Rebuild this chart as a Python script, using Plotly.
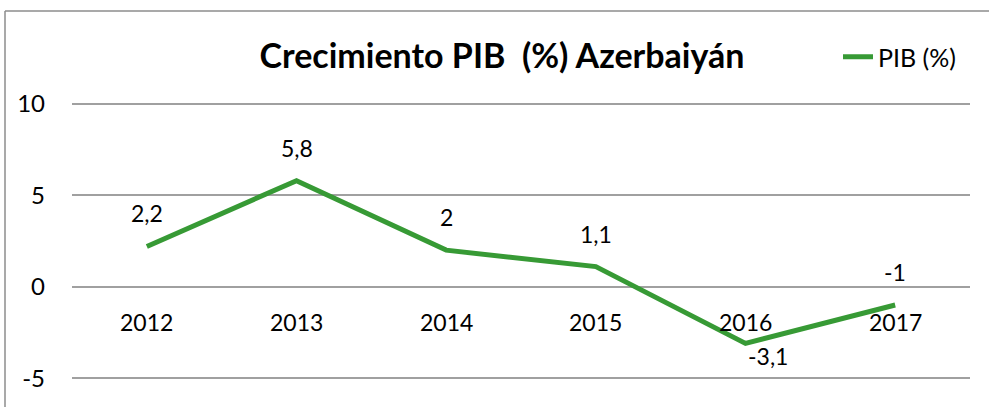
import plotly.graph_objects as go

years = ["2012", "2013", "2014", "2015", "2016", "2017"]
pib = [2.2, 5.8, 2.0, 1.1, -3.1, -1.0]
y_ticks = [-5, 0, 5, 10]

GREEN = "#379a35"
FONT = "Lato"

W, H = 989, 407
ML, MR, MT, MB = 72, 19, 102, 27

fig = go.Figure()
fig.add_trace(go.Scatter(
    x=years, y=pib, mode="lines", name="PIB (%)",
    line=dict(color=GREEN, width=5),
    hoverinfo="skip",
))

def fmt(v):
    return ("%g" % v).replace(".", ",")

annotations = []
for i, v in enumerate(pib):
    below = v < -2
    annotations.append(dict(
        x=i, y=v, xref="x", yref="y", text=fmt(v), showarrow=False,
        xshift=22 if below else 0, yshift=-13 if below else 33,
        yanchor="middle", xanchor="center",
        font=dict(family=FONT, size=23, color="#000"),
    ))
for i, yr in enumerate(years):
    annotations.append(dict(
        x=i, y=0, xref="x", yref="y", text=yr, showarrow=False,
        yshift=-35, yanchor="middle", xanchor="center",
        font=dict(family=FONT, size=23, color="#000"),
    ))

pw = W - ML - MR
ph = H - MT - MB
def px_x(px):
    return (px - ML) / pw
def px_y(py):
    return (H - MB - py) / ph

shapes = [
    dict(type="line", xref="paper", yref="paper",
         x0=px_x(5), x1=px_x(995), y0=px_y(11), y1=px_y(11),
         line=dict(color="#8c8c8c", width=1.5)),
    dict(type="line", xref="paper", yref="paper",
         x0=px_x(5), x1=px_x(5), y0=px_y(11), y1=px_y(415),
         line=dict(color="#8c8c8c", width=1.5)),
]

fig.update_layout(
    width=W, height=H,
    margin=dict(l=ML, r=MR, t=MT, b=MB),
    paper_bgcolor="white", plot_bgcolor="white",
    font=dict(family=FONT, size=23, color="#000"),
    title=dict(text="<b>Crecimiento PIB  (%) Azerbaiyán</b>",
               x=502 / W, xanchor="center", y=1 - 56 / H, yanchor="middle",
               font=dict(family=FONT, size=34, color="#000")),
    showlegend=True,
    legend=dict(x=px_x(838), y=px_y(57), xanchor="left", yanchor="middle",
                font=dict(family=FONT, size=25, color="#000"),
                bgcolor="rgba(0,0,0,0)", itemwidth=30, tracegroupgap=0),
    xaxis=dict(type="category", showticklabels=False, showgrid=False,
               zeroline=False, showline=False, ticks="",
               range=[-0.5, len(years) - 0.5]),
    yaxis=dict(range=[-5.1, 10.1], tickvals=y_ticks,
               ticktext=[str(t) for t in y_ticks],
               showgrid=True, gridcolor="#a0a0a0", gridwidth=1.5,
               zeroline=False, showline=False, ticks="",
               ticklabelstandoff=26,
               tickfont=dict(family=FONT, size=24, color="#000")),
    annotations=annotations,
    shapes=shapes,
)

fig.write_html("out.html", config={"displayModeBar": False},
               post_script="document.body.style.margin='0';document.body.style.padding='0';")
